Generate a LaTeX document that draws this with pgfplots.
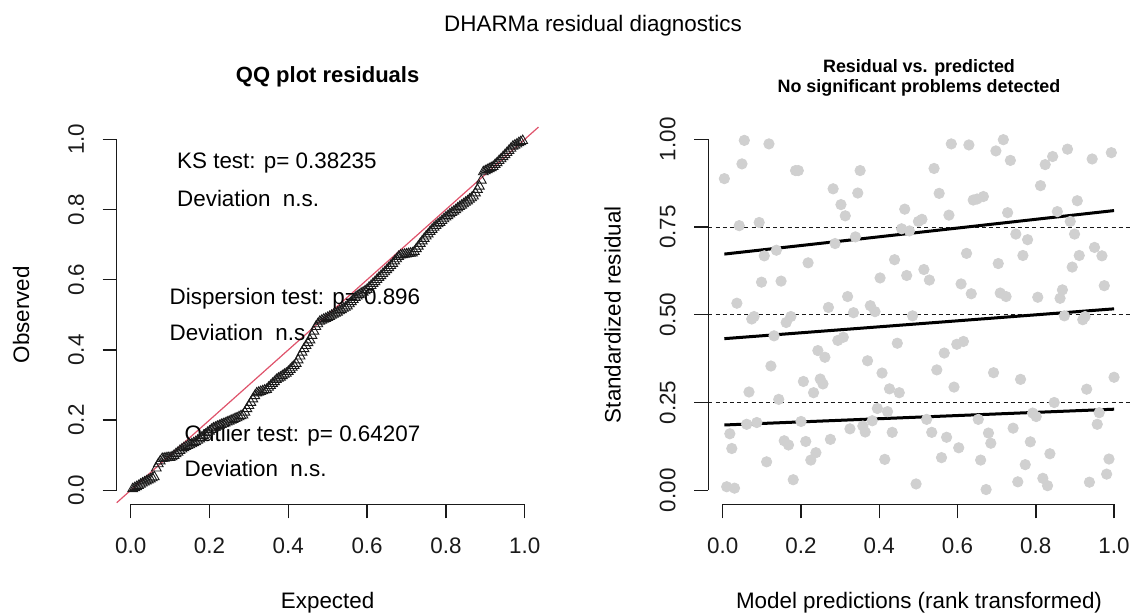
\documentclass[border=0pt]{standalone}
\usepackage{fontspec}
\setmainfont{Liberation Sans}
\usepackage{pgfplots}
\pgfplotsset{compat=1.18}
\definecolor{rred}{HTML}{DF536B}
\definecolor{ptgrey}{HTML}{D0D0D0}
\definecolor{ink}{HTML}{1A1A1A}
\begin{document}
\begin{tikzpicture}[font=\fontsize{11.2}{13.4}\selectfont]
\useasboundingbox (0,0) rectangle (567pt,307.5pt);
\pgfplotsset{
 rstyle/.style={
   scale only axis, clip=false,
   height=189.5pt,
   ymin=-0.04, ymax=1.04,
   axis line style={draw=none},
   axis x line*=bottom, axis y line*=left,
   tick align=outside,
   major tick length=7pt,
   every tick/.style={ink, line width=0.7pt},
   xtick={0,0.2,0.4,0.6,0.8,1},
   xticklabels={0.0,0.2,0.4,0.6,0.8,1.0},
   xticklabel style={anchor=base, yshift=-17.65pt, inner sep=0pt},
   yticklabel style={anchor=base, xshift=-9.45pt, rotate=90, inner sep=0pt},
   tick label style={font=\fontsize{11.2}{13.4}\selectfont, text=ink},
 }
}
% ---------------- QQ plot ----------------
\begin{axis}[rstyle, at={(58.35pt,55.35pt)}, anchor=south west, width=210.9pt,
  xmin=-0.0355, xmax=1.035,
  ytick={0,0.2,0.4,0.6,0.8,1}, yticklabels={0.0,0.2,0.4,0.6,0.8,1.0}]
\addplot[ink, only marks, mark=triangle, mark size=2.8pt, mark options={line width=0.45pt}] coordinates {
(0.005,0.004) (0.010,0.007) (0.015,0.010) (0.020,0.013) (0.025,0.017) (0.030,0.020) (0.035,0.023) (0.040,0.026) (0.045,0.029) (0.050,0.032)
(0.055,0.035) (0.060,0.038) (0.065,0.063) (0.070,0.075) (0.075,0.083) (0.080,0.090) (0.085,0.091) (0.090,0.092) (0.095,0.093) (0.100,0.093)
(0.105,0.095) (0.110,0.099) (0.115,0.104) (0.120,0.108) (0.125,0.113) (0.130,0.117) (0.135,0.121) (0.140,0.124) (0.145,0.127) (0.150,0.129)
(0.155,0.132) (0.160,0.135) (0.165,0.138) (0.170,0.142) (0.175,0.146) (0.180,0.150) (0.185,0.155) (0.190,0.159) (0.195,0.164) (0.200,0.168)
(0.205,0.173) (0.210,0.177) (0.215,0.179) (0.220,0.182) (0.225,0.184) (0.230,0.187) (0.235,0.189) (0.240,0.191) (0.245,0.194) (0.250,0.196)
(0.255,0.199) (0.260,0.201) (0.265,0.204) (0.270,0.206) (0.275,0.209) (0.280,0.212) (0.285,0.214) (0.290,0.222) (0.295,0.232) (0.300,0.241)
(0.305,0.250) (0.310,0.260) (0.315,0.269) (0.320,0.277) (0.325,0.279) (0.330,0.281) (0.335,0.283) (0.340,0.285) (0.345,0.287) (0.350,0.293)
(0.355,0.298) (0.360,0.304) (0.365,0.309) (0.370,0.315) (0.375,0.319) (0.380,0.322) (0.385,0.326) (0.390,0.330) (0.395,0.333) (0.400,0.338)
(0.405,0.344) (0.410,0.350) (0.415,0.355) (0.420,0.361) (0.425,0.371) (0.430,0.382) (0.435,0.393) (0.440,0.403) (0.445,0.412) (0.450,0.420)
(0.455,0.428) (0.460,0.441) (0.465,0.453) (0.470,0.466) (0.475,0.474) (0.480,0.481) (0.485,0.484) (0.490,0.487) (0.495,0.489) (0.500,0.492)
(0.505,0.495) (0.510,0.498) (0.515,0.501) (0.520,0.504) (0.525,0.507) (0.530,0.511) (0.535,0.514) (0.540,0.518) (0.545,0.521) (0.550,0.525)
(0.555,0.531) (0.560,0.537) (0.565,0.543) (0.570,0.549) (0.575,0.553) (0.580,0.557) (0.585,0.561) (0.590,0.564) (0.595,0.568) (0.600,0.572)
(0.605,0.578) (0.610,0.583) (0.615,0.589) (0.620,0.594) (0.625,0.600) (0.630,0.606) (0.635,0.611) (0.640,0.617) (0.645,0.622) (0.650,0.628)
(0.655,0.634) (0.660,0.640) (0.665,0.646) (0.670,0.653) (0.675,0.659) (0.680,0.666) (0.685,0.670) (0.690,0.671) (0.695,0.672) (0.700,0.673)
(0.705,0.674) (0.710,0.675) (0.715,0.676) (0.720,0.680) (0.725,0.688) (0.730,0.695) (0.735,0.703) (0.740,0.710) (0.745,0.717) (0.750,0.724)
(0.755,0.730) (0.760,0.737) (0.765,0.743) (0.770,0.749) (0.775,0.754) (0.780,0.759) (0.785,0.763) (0.790,0.768) (0.795,0.773) (0.800,0.778)
(0.805,0.782) (0.810,0.787) (0.815,0.791) (0.820,0.795) (0.825,0.799) (0.830,0.804) (0.835,0.808) (0.840,0.812) (0.845,0.816) (0.850,0.820)
(0.855,0.824) (0.860,0.829) (0.865,0.833) (0.870,0.838) (0.875,0.847) (0.880,0.857) (0.885,0.866) (0.890,0.883) (0.895,0.907) (0.900,0.910)
(0.905,0.913) (0.910,0.916) (0.915,0.919) (0.920,0.922) (0.925,0.928) (0.930,0.933) (0.935,0.939) (0.940,0.944) (0.945,0.950) (0.950,0.956)
(0.955,0.962) (0.960,0.968) (0.965,0.974) (0.970,0.980) (0.975,0.983) (0.980,0.986) (0.985,0.990) (0.990,0.993) (0.995,0.996)
};
\addplot[rred, line width=0.6pt] coordinates {(-0.0355,-0.0355) (1.035,1.035)};
\draw[ink, line width=0.7pt] (axis cs:0,-0.04) -- (axis cs:1,-0.04);
\draw[ink, line width=0.7pt] (axis cs:-0.0355,0) -- (axis cs:-0.0355,1);
\node[anchor=base west, inner sep=0pt] at (axis cs:0.117,0.916) {KS test: p= 0.38235};
\node[anchor=base west, inner sep=0pt] at (axis cs:0.117,0.810) {Deviation~~n.s.};
\node[anchor=base west, inner sep=0pt] at (axis cs:0.098,0.528) {Dispersion test: p= 0.896};
\node[anchor=base west, inner sep=0pt] at (axis cs:0.098,0.426) {Deviation~~n.s.};
\node[anchor=base west, inner sep=0pt] at (axis cs:0.136,0.140) {Outlier test: p= 0.64207};
\node[anchor=base west, inner sep=0pt] at (axis cs:0.136,0.039) {Deviation~~n.s.};
\end{axis}
% ---------------- Residual vs predicted ----------------
\begin{axis}[rstyle, at={(354.15pt,55.35pt)}, anchor=south west, width=210.7pt,
  xmin=-0.037, xmax=1.04,
  ytick={0,0.25,0.5,0.75,1}, yticklabels={0.00,0.25,0.50,0.75,1.00}]
\addplot[only marks, mark=*, color=ptgrey, mark size=2.6pt, mark options={draw=ptgrey, fill=ptgrey, line width=0.4pt}] coordinates {
(0.055,0.997) (0.118,0.987) (0.049,0.930) (0.004,0.888) (0.186,0.911) (0.193,0.911) (0.351,0.911) (0.282,0.859)
(0.345,0.847) (0.302,0.814) (0.313,0.782) (0.465,0.801) (0.042,0.754) (0.093,0.763) (0.457,0.745) (0.477,0.739)
(0.339,0.722) (0.287,0.703) (0.137,0.684) (0.106,0.668) (0.218,0.648) (0.439,0.657) (0.099,0.593) (0.149,0.596)
(0.402,0.605) (0.470,0.612) (0.036,0.533) (0.319,0.552) (0.270,0.521) (0.377,0.526) (0.389,0.509) (0.334,0.506)
(0.500,0.766) (0.509,0.772) (0.584,0.987) (0.629,0.984) (0.717,0.999) (0.698,0.967) (0.735,0.940) (0.540,0.917)
(0.553,0.846) (0.640,0.827) (0.650,0.830) (0.666,0.837) (0.578,0.784) (0.728,0.791) (0.824,0.928) (0.843,0.951)
(0.881,0.972) (0.944,0.944) (0.993,0.962) (0.812,0.868) (0.906,0.825) (0.855,0.794) (0.888,0.766) (0.749,0.730)
(0.779,0.714) (0.899,0.730) (0.623,0.675) (0.767,0.669) (0.704,0.646) (0.950,0.692) (0.969,0.668) (0.911,0.669)
(0.893,0.636) (0.514,0.629) (0.528,0.599) (0.609,0.588) (0.635,0.560) (0.709,0.562) (0.724,0.552) (0.805,0.550)
(0.868,0.571) (0.862,0.547) (0.975,0.583)
(0.074,0.488) (0.080,0.495) (0.162,0.478) (0.174,0.495) (0.131,0.440) (0.294,0.427) (0.308,0.436) (0.446,0.419)
(0.243,0.398) (0.261,0.379) (0.123,0.354) (0.370,0.369) (0.407,0.334) (0.206,0.310) (0.249,0.317) (0.256,0.303)
(0.232,0.278) (0.067,0.280) (0.143,0.259) (0.426,0.289) (0.451,0.278) (0.395,0.233) (0.421,0.224) (0.061,0.188)
(0.087,0.193) (0.200,0.196) (0.018,0.161) (0.023,0.119) (0.157,0.141) (0.168,0.129) (0.212,0.139) (0.275,0.145)
(0.325,0.175) (0.358,0.183) (0.364,0.166) (0.382,0.198) (0.433,0.165) (0.112,0.081) (0.225,0.086) (0.238,0.107)
(0.414,0.088) (0.180,0.030) (0.010,0.010) (0.030,0.006) (0.494,0.018) (0.485,0.497)
(0.873,0.497) (0.920,0.486) (0.926,0.495) (0.598,0.416) (0.615,0.424) (0.566,0.391) (0.547,0.343) (0.692,0.335)
(0.761,0.316) (0.591,0.294) (1.000,0.322) (0.930,0.288) (0.847,0.250) (0.521,0.202) (0.653,0.202) (0.792,0.220)
(0.801,0.210) (0.962,0.221) (0.534,0.165) (0.572,0.151) (0.679,0.163) (0.685,0.134) (0.742,0.177) (0.603,0.121)
(0.786,0.138) (0.957,0.188) (0.559,0.093) (0.659,0.086) (0.836,0.104) (0.773,0.073) (0.987,0.089) (0.673,0.002)
(0.754,0.024) (0.818,0.034) (0.830,0.013) (0.937,0.023) (0.981,0.046)
};
\addplot[ink, line width=0.45pt, dash pattern=on 2pt off 1.6pt] coordinates {(-0.037,0.25) (1.04,0.25)};
\addplot[ink, line width=0.45pt, dash pattern=on 2pt off 1.6pt] coordinates {(-0.037,0.50) (1.04,0.50)};
\addplot[ink, line width=0.45pt, dash pattern=on 2pt off 1.6pt] coordinates {(-0.037,0.75) (1.04,0.75)};
\addplot[black, line width=1.5pt] coordinates {(0.004,0.673) (1.000,0.797)};
\addplot[black, line width=1.5pt] coordinates {(0.004,0.432) (1.000,0.517)};
\addplot[black, line width=1.5pt] coordinates {(0.004,0.186) (1.000,0.231)};
\draw[ink, line width=0.7pt] (axis cs:0,-0.04) -- (axis cs:1,-0.04);
\draw[ink, line width=0.7pt] (axis cs:-0.037,0) -- (axis cs:-0.037,1);
\end{axis}
% ---------------- titles and labels ----------------
\node[anchor=base, inner sep=0pt] at (296.5pt,291.5pt) {DHARMa residual diagnostics};
\node[anchor=base, inner sep=0pt, font=\bfseries\fontsize{11}{13}\selectfont] at (163.8pt,266pt) {QQ plot residuals};
\node[anchor=base, inner sep=0pt, font=\bfseries\fontsize{8.96}{10.5}\selectfont] at (459.5pt,271pt) {Residual vs. predicted};
\node[anchor=base, inner sep=0pt, font=\bfseries\fontsize{8.96}{10.5}\selectfont] at (459.5pt,261pt) {No significant problems detected};
\node[anchor=base, inner sep=0pt] at (163.8pt,3.25pt) {Expected};
\node[anchor=base, inner sep=0pt] at (459.5pt,3.25pt) {Model predictions (rank transformed)};
\node[anchor=base, inner sep=0pt, rotate=90] at (14.5pt,150.1pt) {Observed};
\node[anchor=base, inner sep=0pt, rotate=90] at (310.3pt,150.1pt) {Standardized residual};
\end{tikzpicture}
\end{document}
